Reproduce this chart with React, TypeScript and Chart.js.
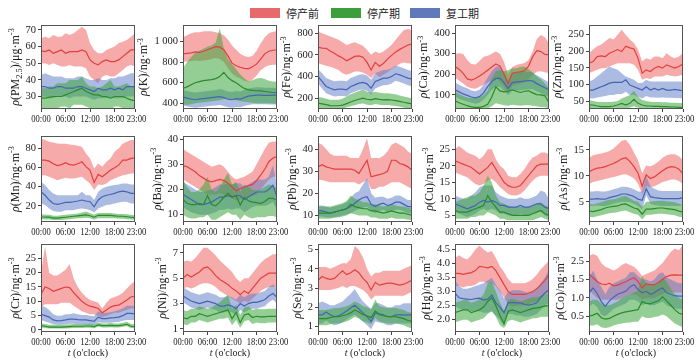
import React, { useEffect, useRef } from 'react';
import { Chart, registerables } from 'chart.js';

Chart.register(...registerables);

const SERIF = '"Liberation Serif", "Times New Roman", "DejaVu Serif", serif';
const CJK = '"Noto Sans CJK SC", "Noto Sans", sans-serif';
const TEXT = '#222222';
const FRAME = '#555555';

const RED_LINE = 'rgb(226,64,64)';
const RED_FILL = 'rgba(240,100,100,0.55)';
const GREEN_LINE = 'rgb(40,140,40)';
const GREEN_FILL = 'rgba(60,165,60,0.55)';
const BLUE_LINE = 'rgb(70,100,180)';
const BLUE_FILL = 'rgba(90,120,195,0.5)';

const LEGEND_LABELS = ['停产前', '停产期', '复工期'];
const LEGEND_COLORS = ['#e8696b', '#3c9f3c', '#6079b8'];

const HOURS = [0, 1, 2, 3, 4, 5, 6, 7, 8, 9, 10, 11, 12, 13, 14, 15, 16, 17, 18, 19, 20, 21, 22, 23];
const X_TICKS = [0, 6, 12, 18, 23];
const X_TICK_LABELS = ['00:00', '06:00', '12:00', '18:00', '23:00'];

// ---------- PM2.5 ----------
const pm25PreMean = [57.5,57,58,56,57,58,56,57,57,57,58,57,52,50,49,51,52,51,51,52,54,56,58,58];
const pm25PreLo = [50,50,49,50,49,48,48,49,48,48,48,47,42,40,38,42,43,42,42,44,46,48,49,48];
const pm25PreHi = [65,66,65,67,66,66,68,67,68,70,72,70,62,58,56,56,58,59,60,62,63,64,66,68];
const pm25StopMean = [29,29,29.5,30,30,30,31,32,33,34,35,33,32,31,31,30,30,29,30,30,30,29,28,27.5];
const pm25StopLo = [22,22,23,22,23,24,24,23,25,25,25,24,23,22,22,22,23,22,24,24,23,22,22,22];
const pm25StopHi = [35,35,36,36,38,38,38,40,40,40,42,38,36,36,35,36,38,40,36,36,37,38,36,36];
const pm25ResMean = [36,36,35,35,36,36,35,35,35,36,36,35,34,33,35,34,34,35,34,35,34,36,36,36];
const pm25ResLo = [30,30,29,29,30,30,30,29,30,30,30,30,29,28,29,29,29,29,29,29,29,30,30,30];
const pm25ResHi = [43,44,43,42,42,42,41,41,41,42,42,41,40,40,41,40,40,41,41,42,42,43,44,44];
const PM25_TICKS = [30, 40, 50, 60, 70];
const PM25_TICK_LABELS = ['30', '40', '50', '60', '70'];

// ---------- K ----------
const kPreMean = [880,885,890,900,895,905,920,935,950,945,920,860,790,765,750,740,735,755,780,830,880,905,915,920];
const kPreLo = [800,805,810,815,810,815,820,830,840,830,800,740,690,660,640,620,610,630,670,720,750,770,775,775];
const kPreHi = [1040,1060,1080,1090,1090,1100,1100,1100,1090,1080,1060,1020,960,920,880,860,850,860,910,980,1040,1080,1095,1100];
const kStopMean = [545,560,580,600,610,620,625,630,640,660,700,650,620,600,570,545,530,525,522,520,515,510,505,500];
const kStopLo = [390,385,390,400,405,410,415,420,425,430,440,445,440,430,420,415,410,405,400,400,400,400,398,395];
const kStopHi = [740,800,850,890,910,930,950,960,990,1130,930,830,780,730,680,640,615,625,640,645,635,620,612,610];
const kResMean = [460,450,440,435,440,445,450,455,460,465,455,440,435,445,440,455,470,475,480,480,478,478,480,480];
const kResLo = [380,370,362,358,362,368,372,376,380,385,375,362,358,365,362,375,385,390,392,392,390,388,388,388];
const kResHi = [530,520,510,505,510,515,520,525,530,540,530,515,510,520,515,530,545,550,555,555,552,550,550,548];
const K_TICKS = [400, 600, 800, 1000];
const K_TICK_LABELS = ['400', '600', '800', '1 000'];

// ---------- Fe ----------
const fePreMean = [671,662,660,635,615,590,570,545,565,585,590,578,530,460,530,495,520,560,595,625,650,670,690,700];
const fePreLo = [523,510,500,490,477,460,430,415,430,446,446,437,415,385,430,394,415,437,468,490,517,530,523,517];
const fePreHi = [815,800,785,770,755,740,715,690,705,715,700,683,645,600,630,615,630,660,690,740,785,830,837,830];
const feStopMean = [154,148,140,132,130,130,135,150,165,178,190,200,190,185,195,188,185,187,183,178,170,162,155,148];
const feStopLo = [110,105,100,95,95,95,100,115,125,135,145,150,140,135,145,140,135,137,133,128,120,112,106,102];
const feStopHi = [210,205,195,185,185,185,195,215,235,250,265,280,260,250,260,250,245,245,240,235,225,215,205,200];
const feResMean = [400,354,308,292,277,283,283,277,308,323,338,345,332,292,354,369,385,385,400,425,415,400,385,375];
const feResLo = [335,290,245,230,215,220,220,215,245,260,275,280,268,232,290,305,320,322,335,360,350,335,320,310];
const feResHi = [470,430,385,370,355,360,360,355,385,400,415,420,408,370,430,445,460,462,475,500,490,475,460,450];
const FE_TICKS = [200, 400, 600, 800];
const FE_TICK_LABELS = ['200', '400', '600', '800'];

// ---------- Ca ----------
const caPreMean = [238,225,205,178,172,180,192,205,220,235,250,240,200,155,205,210,212,218,240,285,315,310,296,295];
const caPreLo = [185,170,155,140,132,130,140,150,160,170,178,165,140,105,145,150,155,162,175,195,212,215,210,205];
const caPreHi = [300,302,298,270,250,248,265,285,290,300,310,300,260,200,235,245,250,255,270,310,370,390,380,350];
const caStopMean = [72,62,55,48,42,40,40,45,55,90,140,120,115,118,125,118,112,118,120,110,102,100,96,62];
const caStopLo = [38,35,33,32,30,30,30,32,35,45,60,55,50,48,52,50,48,50,50,48,45,42,40,36];
const caStopHi = [115,105,95,88,85,85,88,100,120,180,215,220,215,220,230,230,235,238,225,210,190,175,155,130];
const caResMean = [125,115,105,98,90,86,92,110,140,165,180,182,160,132,160,163,165,167,170,168,155,145,135,125];
const caResLo = [92,82,75,68,62,58,62,78,100,125,140,140,120,100,120,122,123,125,128,128,118,108,100,92];
const caResHi = [160,150,140,132,122,118,125,150,185,215,235,240,210,170,205,210,212,212,212,208,195,185,172,160];
const CA_TICKS = [100, 200, 300, 400];
const CA_TICK_LABELS = ['100', '200', '300', '400'];

// ---------- Zn ----------
const znPreMean = [164,169,184,186,184,194,199,205,199,215,210,207,179,134,144,139,149,154,149,159,154,149,154,162];
const znPreLo = [134,139,144,149,149,154,159,164,164,164,164,159,144,114,119,116,124,124,124,129,126,124,126,129];
const znPreHi = [194,205,215,220,230,240,235,250,265,250,235,225,205,169,179,174,184,184,179,194,184,179,184,194];
const znStopMean = [38,38,35,33,33,33,35,38,43,38,43,55,43,38,35,35,34,34,33,33,32,32,31,31];
const znStopLo = [28,27,26,25,25,25,26,27,29,28,30,34,30,28,27,27,26,26,26,26,26,26,26,26];
const znStopHi = [53,50,48,47,47,47,48,50,58,63,68,81,63,53,50,48,47,47,46,46,45,45,44,43];
const znResMean = [83,83,88,93,98,104,106,106,106,114,98,93,88,83,93,83,88,83,88,83,83,85,83,81];
const znResLo = [58,58,61,63,65,68,68,71,71,78,68,68,63,58,65,61,61,60,61,60,60,59,59,58];
const znResHi = [109,114,124,134,144,154,149,144,134,124,119,114,104,104,114,109,109,109,109,109,109,109,109,109];
const ZN_TICKS = [50, 100, 150, 200, 250];
const ZN_TICK_LABELS = ['50', '100', '150', '200', '250'];

// ---------- Mn ----------
const mnPreMean = [67.8,67.8,66.7,64,62,63,65,63,62.5,64,66,61,57,44.4,52.8,50.3,53.8,57.3,59.8,62.5,67.8,67.8,69.5,70.2];
const mnPreLo = [52,52,50.3,48.6,46.8,47.9,49.3,48.6,48.6,49.3,50.3,46.8,43.4,36.4,42.3,41.6,43.4,46.8,48.6,50.3,52,52.8,53.8,53.8];
const mnPreHi = [90.5,88.7,87,86.3,85.2,85,85,84,83.5,82.8,81.7,74.8,69.5,59,64.3,60.8,66,69.5,76.5,80,85,87,88.7,88.7];
const mnStopMean = [8.5,8,8,7,7,7.5,8,8.5,9,9.5,10,10.5,9.5,8,10,10,10,10,9.5,9,9,8.5,8,7.5];
const mnStopLo = [6,5.5,5.5,5,5,5,5.5,6,6.5,7,7,7.5,7,5.5,7,7,7,7,7,6.5,6.5,6,5.5,5];
const mnStopHi = [11,10.5,10.5,9.5,9.5,10,10.5,11,11.5,12,13,14,12.5,10.5,12.5,12.5,12.5,12.5,12,11.5,11.5,11,10.5,10];
const mnResMean = [34.6,31,26,22.4,21.4,22.4,23.5,23.5,24.2,25,26,25,24.2,18.9,26,29.4,31,31.8,32.9,34.6,35.3,34.6,32.9,32.9];
const mnResLo = [22.4,20.7,17.2,14.4,13.7,13.7,15.4,15.4,15.4,16.5,17.2,16.5,15.4,13,17.2,18.9,20.7,21.4,22.4,23.5,24.2,24.2,22.4,22.4];
const mnResHi = [45,41.6,36.4,32.9,31,31,31,31,31,31,34.6,31,31,26,34.6,38.1,39.9,41,41.6,42.3,43.4,43.4,42.3,42.3];
const MN_TICKS = [20, 40, 60, 80];
const MN_TICK_LABELS = ['20', '40', '60', '80'];

// ---------- Ba ----------
const baPreMean = [29.5,29,28,27,25.5,24.5,23.5,23,23.5,24,23.5,22.5,21,19.5,20.3,21,21.5,22,23.5,25.7,28,31,32.5,33];
const baPreLo = [24,23,22,21,20,19,18,18,18,18.5,18,17.5,16.5,15.5,16,16.5,17,17.5,18,20,22,24,25,25];
const baPreHi = [36,35,34,33,32,31,30,29,29.5,30,29,27,25,24,24.5,25,26,27,30,33,36,38.5,39,39];
const baStopMean = [16,14.5,14,14,14.5,14,17.5,14,13.5,15,17,18.5,17,17.5,13.8,16.8,15.5,15,14.8,14.4,15.2,16.5,16.5,15.7];
const baStopLo = [10,9,8.5,8.5,9,9,10,8,8,9,10,11,10,10,8,10,9,8.5,9,9,9,9.5,9.5,9];
const baStopHi = [24,21,19,19,20,22,25,20,19,21,24,26.5,22,23,19,22,21,20,19.5,20,21,22,21.5,20.5];
const baResMean = [18,17,16,15,14,14,14.5,15,16,17,17,17.5,17,17.7,17.5,16,17,18,19,19,19,20,21.7,17];
const baResLo = [13,12,11,10.5,10,10,10,10.5,11,12,12,12.5,12,12.5,12.5,11,12,13,13.5,13.5,13.5,14,15,12];
const baResHi = [23,22,21,20,19,19,19.5,20,21,22,22,22.5,22,22.5,22.5,21,22,23,24,24,24,25,29.6,22];
const BA_TICKS = [10, 20, 30, 40];
const BA_TICK_LABELS = ['10', '20', '30', '40'];

// ---------- Pb ----------
const pbPreMean = [32,33,32,31.5,31,31,31,31,31,30.5,29,32,35,27.5,28,28.5,29,30,35,35,33.5,33,32,30.5];
const pbPreLo = [26,26,25.5,25,25,25,25,25,25,25,24,25,26,22,22,23,23,24,25,25,25,24,23,22];
const pbPreHi = [43,42,40,38,37,37,37,37,36,36,36,40,45,36,36,36,37,39,42,43,42,41,39,38];
const pbStopMean = [11,11,11,11,11.5,12,12.5,13,15,14,13.5,13,13,12,12,11.5,11,11.5,12,11.5,11,11,10.5,10];
const pbStopLo = [8.5,8.5,8.5,8.5,9,9,9.5,10,11,10.5,10,10,10,9,9,8.5,8.5,8.5,9,8.5,8.5,8.5,8,8];
const pbStopHi = [14,14,14,14,14.5,15,15.5,16.5,19,17.5,17,16,16,15,15,14.5,14,14.5,15,14.5,14,14,13.5,13];
const pbResMean = [12,12,11.5,11,11.5,12,12.5,13,14,15.5,17,18,18.5,15,14,15,15.5,14.5,15,16,16,15,14,14];
const pbResLo = [9.5,9.5,9,9,9,9.5,10,10.5,11,12,13,13.5,14,12,11,12,12.5,11.5,12,12.5,12.5,12,11,11];
const pbResHi = [14.5,14.5,14,13.5,14,14.5,15,16,18,20,21,24,27,20,18,18.5,18.5,17.5,18,19,19,18,17,17];
const PB_TICKS = [10, 20, 30, 40];
const PB_TICK_LABELS = ['10', '20', '30', '40'];

// ---------- Cu ----------
const cuPreMean = [21.5,21,20.5,20,19.5,18.5,17.5,18.5,19.5,21,19,17,15,14,13.5,13.5,14,15.5,17,18.5,20,20.5,20.5,20.5];
const cuPreLo = [18,17.5,17,16.5,15.5,14.5,14,14.5,15.5,16,15,13.5,12.5,11.5,11,11,11.5,12.5,14,15.5,16.5,17,17,17];
const cuPreHi = [25,26,25,24,23.5,23,22,23,25,25,22,20,19,17,16.5,16.5,17.5,19,21,22.5,23,24,24,23.5];
const cuStopMean = [6.5,6,6,6,6.5,7,7.5,8,11,9,7.5,6,6,5.5,5,5,5,5,5,5.5,6,6.5,5.5,5];
const cuStopLo = [4,4,4,4,4.5,4.5,5,5,6,5.5,5,4,4,3.5,3.5,3.5,3.5,3.5,3.5,3.5,4,4.5,4,3.5];
const cuStopHi = [9,9.5,10,10.5,11,11,12,14,17,15,11,9,8.5,8,7.5,7.5,7.5,7.5,7.5,8,8.5,9,8,7.5];
const cuResMean = [8.5,8,7.5,7,7.5,8,9,9.5,9,9.5,9,8,8,7.5,7.5,7.5,8,7.5,7.5,8,8.5,8.5,7.5,7];
const cuResLo = [6,5.5,5,4.5,5,5.5,6.5,7,6.5,7,6.5,5.5,5.5,5,5,5,5.5,5,5,5.5,6,6,5,4.5];
const cuResHi = [11,10.5,10,10,11,12,13.5,14,14,14,12,11,10.5,10,10,10,10.5,10,10,10.5,11,12.5,12,10];
const CU_TICKS = [5, 10, 15, 20, 25];
const CU_TICK_LABELS = ['5', '10', '15', '20', '25'];

// ---------- As ----------
const asPreMean = [10.8,11.2,11.5,11.6,11.8,12.1,12.4,12.8,13.3,13.5,12.8,11.8,10.5,8.0,10.2,9.5,9.8,10.4,11,11.5,11.8,11.7,11.3,10.4];
const asPreLo = [8.5,8.8,9,9.2,9.4,9.6,9.8,10,10.2,10.3,10,9.5,8.5,6.5,8,7.8,8,8.4,8.8,9,9.3,9.3,9,8.5];
const asPreHi = [13.5,14,14.2,14.3,14.5,14.8,15.3,16,16.8,17,16,14.5,13,10.5,12,11.8,12.2,12.8,13.5,14,14.2,14.2,13.8,13];
const asStopMean = [3.2,3.1,3.3,3.5,3.8,4,4.1,4.2,4.5,4.6,4.2,3.8,3.6,2.6,3.6,3.6,3.7,3.8,3.8,3.7,3.6,3.5,3.2,3];
const asStopLo = [2.1,2,2.2,2.4,2.6,2.8,2.9,3,3.2,3.3,3,2.7,2.5,1.6,2.5,2.5,2.6,2.7,2.7,2.6,2.5,2.4,2.1,2];
const asStopHi = [4.6,4.5,4.7,4.9,5.2,5.4,5.5,5.7,6,6.1,5.7,5.2,5,4,5,5,5.1,5.2,5.2,5.1,5,4.9,4.6,4.4];
const asResMean = [5.5,5.5,5.6,5.5,5.5,5.8,6,6.2,6.5,6.5,6.3,6,5.5,5.3,7.5,6,5.8,5.7,5.6,5.6,5.6,5.6,5.6,5.8];
const asResLo = [4.2,4.2,4.3,4.2,4.2,4.4,4.6,4.8,5,5,4.9,4.6,4.2,3.5,6.3,4.6,4.4,4.3,4.2,4.2,4.2,4.2,4.2,4.4];
const asResHi = [7,7,7.1,7,7,7.2,7.4,7.6,7.9,7.9,7.7,7.4,7,7,10,8,7.5,7.2,7.1,7.1,7.1,7.1,7.1,7.2];
const AS_TICKS = [5, 10, 15];
const AS_TICK_LABELS = ['5', '10', '15'];

// ---------- Cr ----------
const crPreMean = [12.5,15,14.5,13.5,14,14.5,15,14.8,13,11.5,10,9,8.3,8,7.5,6,7,8,8.5,8.7,9.5,10.5,11.5,11.8];
const crPreLo = [8,9,9,9,9,9.5,9.5,9.5,8.5,7.5,6.5,6,5.5,5.5,5,4.5,5,5.5,6,6,6.5,7,7.5,7.5];
const crPreHi = [20,29,20,19,19,20,21,23,18,15,13,11.5,10.5,10,9.5,7.5,9.5,11,11.5,12,13,14.5,16,17];
const crStopMean = [1.5,1.3,1,1,1,1,1.1,1.2,1.3,1.3,1.3,1.4,1.4,1.2,1.8,1.5,1.5,1.6,1.5,1.5,1.7,2,1.3,1.2];
const crStopLo = [0.9,0.7,0.5,0.5,0.5,0.5,0.5,0.6,0.7,0.7,0.7,0.8,0.8,0.6,1.2,0.9,0.9,1,0.9,0.9,1.1,1.3,0.7,0.6];
const crStopHi = [2.3,2.1,1.8,1.8,1.8,1.8,1.9,2,2.1,2.1,2.1,2.2,2.2,2,2.6,2.3,2.3,2.4,2.3,2.3,2.5,2.9,2.1,2];
const crResMean = [5.5,5,4.5,3.5,3.2,3.3,3.5,3.8,3.8,3.6,3.5,3.5,3.3,3,4.5,4,4,4.2,4.3,4.5,5,5.8,5.8,5.6];
const crResLo = [3.5,3,2.5,2,1.8,1.8,2,2.2,2.2,2,2,2,1.8,1.8,2.8,2.5,2.5,2.5,2.7,2.8,3.2,3.5,3.5,3.5];
const crResHi = [8.5,8,7,5.5,5,5,5.5,5.5,5.8,5.5,5.2,5.2,5,4.8,6.5,6,6,6.2,6.5,7,7.5,8.5,8.5,8.3];
const CR_TICKS = [0, 5, 10, 15, 20, 25];
const CR_TICK_LABELS = ['0', '5', '10', '15', '20', '25'];

// ---------- Ni ----------
const niPreMean = [5.0,5.3,5.1,5.3,5.5,5.8,5.9,5.6,5.2,4.9,4.7,4.5,4.2,4,3.7,4,3.8,4.2,4.6,5,5.2,5.4,5.4,5.4];
const niPreLo = [4.2,4.3,4.2,4.3,4.5,4.6,4.6,4.5,4.3,4,3.8,3.6,3.4,3.2,3,3.2,3.1,3.4,3.7,4,4.2,4.3,4.3,4.3];
const niPreHi = [6.3,6.4,6.3,6.6,7,7.4,7.4,7.1,6.8,6.4,6.1,5.8,5.5,5,4.7,5,5,5.4,5.8,6.2,6.5,6.7,6.9,6.9];
const niStopMean = [1.9,1.8,2,2,2.2,2.1,2,2.1,2.2,2.3,2.4,2.5,1.8,2.3,1.5,2.1,2.2,1.9,2,1.95,1.95,2,2,2];
const niStopLo = [1.4,1.3,1.5,1.5,1.7,1.6,1.5,1.6,1.7,1.8,1.8,1.9,1.3,1.7,1.1,1.6,1.7,1.4,1.5,1.45,1.45,1.5,1.5,1.5];
const niStopHi = [2.5,2.4,2.6,2.6,2.8,2.7,2.6,2.7,2.9,3.1,3.4,3.7,2.6,2.9,2.1,2.7,2.8,2.5,2.6,2.55,2.55,2.6,2.6,2.6];
const niResMean = [3.6,3.4,3.2,3.1,3,3.1,3.2,3.1,3,2.8,2.8,2.9,2.8,2.6,3,2.8,3,3.1,3.1,3.2,3.3,3.6,3.8,3.5];
const niResLo = [3.1,2.9,2.7,2.6,2.5,2.6,2.7,2.6,2.5,2.3,2.3,2.4,2.3,2.1,2.5,2.3,2.5,2.6,2.6,2.7,2.8,3.1,3.3,3];
const niResHi = [4.3,4.1,3.9,3.8,3.7,3.8,3.9,3.8,3.7,3.5,3.5,3.6,3.5,3.3,3.7,3.5,3.7,3.8,3.8,3.9,4,4.3,4.5,4.2];
const NI_TICKS = [1, 3, 5, 7];
const NI_TICK_LABELS = ['1', '3', '5', '7'];

// ---------- Se ----------
const sePreMean = [3.4,3.6,3.5,3.45,3.5,3.7,3.9,3.7,3.8,3.95,3.8,3.5,3.3,2.9,3.3,3.15,3.2,3.25,3.25,3.2,3.15,3.2,3.3,3.4];
const sePreLo = [2.9,2.9,2.9,2.9,2.95,3,3.1,3,3.1,3.1,3,2.9,2.7,2.4,2.6,2.6,2.6,2.6,2.6,2.6,2.6,2.6,2.7,2.8];
const sePreHi = [4.1,4.1,4.1,4,4.1,4.2,4.3,4.3,4.5,5.2,5,4.6,4,3.6,3.8,3.8,3.9,3.9,3.9,3.9,3.9,4,4.1,4.2];
const seStopMean = [1.4,1.4,1.4,1.45,1.5,1.5,1.55,1.6,1.7,1.85,1.75,1.6,1.55,1.45,1.8,1.6,1.55,1.5,1.5,1.5,1.45,1.4,1.3,1.25];
const seStopLo = [1.05,1.05,1.05,1.1,1.15,1.15,1.2,1.25,1.35,1.5,1.4,1.25,1.2,1.1,1.45,1.25,1.2,1.15,1.15,1.15,1.1,1.05,0.95,0.9];
const seStopHi = [1.85,1.85,1.85,1.9,1.95,1.95,2,2.05,2.15,2.3,2.2,2.05,2,1.9,2.4,2.05,2,1.95,1.95,1.95,1.9,1.85,1.75,1.7];
const seResMean = [1.6,1.6,1.75,1.6,1.5,1.55,1.65,1.8,1.95,2.1,1.9,1.7,1.5,1.25,1.7,1.65,1.6,1.5,1.5,1.6,1.6,1.6,1.6,1.6];
const seResLo = [1.15,1.15,1.3,1.15,1.05,1.1,1.2,1.35,1.5,1.6,1.45,1.25,1.05,0.85,1.25,1.2,1.15,1.05,1.05,1.15,1.15,1.15,1.15,1.15];
const seResHi = [2.2,2.3,2.2,2.1,2.1,2.2,2.3,2.5,2.7,2.95,2.6,2.3,2.1,1.9,2.2,2.2,2.1,2,2,2.1,2.1,2.2,2.2,2.2];
const SE_TICKS = [1, 2, 3, 4, 5];
const SE_TICK_LABELS = ['1', '2', '3', '4', '5'];

// ---------- Hg ----------
const hgPreMean = [3.65,3.65,3.62,3.65,3.68,3.75,3.9,3.88,3.85,3.9,3.75,3.5,3.25,3,2.9,2.9,2.9,2.9,2.95,3,3.1,3.25,3.4,3.6];
const hgPreLo = [3.2,3.2,3.15,3.2,3.2,3.25,3.35,3.35,3.3,3.3,3.2,3,2.8,2.55,2.45,2.5,2.5,2.5,2.55,2.6,2.65,2.75,2.9,3];
const hgPreHi = [4.2,4.3,4.2,4.15,4.3,4.5,4.65,4.5,4.4,4.45,4.2,3.9,3.7,3.45,3.3,3.3,3.3,3.3,3.35,3.45,3.6,3.8,3.95,4.1];
const hgStopMean = [2.25,2.3,2.35,2.35,2.25,2.3,2.35,2.45,2.65,2.78,2.5,2.15,1.85,2.3,2.35,2.3,2.25,2.3,2.35,2.4,2.42,2.45,2.48,2.5];
const hgStopLo = [1.9,1.95,2,2,1.9,1.95,2,2.05,2.2,2.3,2.1,1.8,1.7,1.95,2,1.95,1.9,1.95,2,2.05,2.05,2.1,2.1,2.1];
const hgStopHi = [2.6,2.65,2.7,2.7,2.6,2.65,2.75,2.9,3.3,3.35,3,2.6,2.3,2.7,2.75,2.7,2.65,2.7,2.75,2.8,2.8,2.85,2.9,2.95];
const hgResMean = [2.95,2.78,2.75,2.73,2.72,2.75,2.77,2.7,2.73,2.88,2.6,2.45,2.25,2.6,2.62,2.6,2.6,2.55,2.52,2.55,2.6,2.8,2.95,3.07];
const hgResLo = [2.5,2.4,2.35,2.35,2.3,2.3,2.3,2.25,2.25,2.3,2.15,2,1.8,2.2,2.2,2.15,2.15,2.1,2.1,2.15,2.2,2.35,2.5,2.6];
const hgResHi = [3.4,3.2,3.1,3.1,3.15,3.2,3.25,3.3,3.4,3.5,3.25,3.05,2.75,3,3.05,3.05,3.05,3,2.95,3,3.1,3.3,3.5,3.8];
const HG_TICKS = [2, 2.5, 3, 3.5, 4, 4.5];
const HG_TICK_LABELS = ['2.0', '2.5', '3.0', '3.5', '4.0', '4.5'];

// ---------- Co ----------
const coPreMean = [1.65,1.55,1.45,1.38,1.36,1.4,1.33,1.35,1.4,1.44,1.5,1.55,1.45,1.27,1.38,1.36,1.36,1.42,1.5,1.58,1.62,1.63,1.62,1.62];
const coPreLo = [1.2,1.1,1,0.95,0.95,0.95,0.95,0.95,1,1.05,1.1,1.1,1.05,0.95,1,1,1,1.05,1.1,1.15,1.15,1.15,1.15,1.15];
const coPreHi = [2.15,2.2,2.15,1.95,1.85,1.8,1.75,1.8,1.9,1.95,1.9,1.85,1.75,1.6,1.65,1.7,1.75,1.85,1.95,2.1,2.25,2.35,2.3,2.45];
const coStopMean = [0.5,0.53,0.58,0.46,0.42,0.44,0.5,0.55,0.59,0.62,0.64,0.66,0.68,0.9,0.85,0.84,0.88,0.92,1.03,0.92,0.8,0.68,0.58,0.55];
const coStopLo = [0.25,0.25,0.28,0.2,0.18,0.2,0.25,0.28,0.3,0.32,0.33,0.35,0.35,0.5,0.45,0.45,0.48,0.5,0.55,0.5,0.4,0.3,0.25,0.2];
const coStopHi = [0.9,0.95,0.95,0.85,0.8,0.8,0.85,0.9,1,1.05,1.1,1.15,1.2,1.6,1.4,1.35,1.35,1.45,1.55,1.45,1.25,1.1,1,0.95];
const coResMean = [1.14,1.27,1.12,0.9,0.77,0.92,1.02,1.1,1.14,1.18,1.3,1.36,1.23,1.14,1.18,1.1,1.14,1.22,1.27,1.14,1.1,1.06,1.05,1.05];
const coResLo = [0.75,0.85,0.75,0.55,0.5,0.6,0.7,0.75,0.8,0.85,0.95,0.95,0.9,0.8,0.85,0.8,0.8,0.85,0.9,0.8,0.75,0.72,0.7,0.7];
const coResHi = [1.55,1.75,1.5,1.3,1.1,1.3,1.4,1.45,1.5,1.55,1.7,1.7,1.6,1.5,1.5,1.45,1.5,1.65,1.7,1.55,1.5,1.45,1.4,1.4];
const CO_TICKS = [0.5, 1, 1.5, 2];
const CO_TICK_LABELS = ['0.5', '1.0', '1.5', '2.5'];

// ---------- layout ----------
const COL_LEFT = [41, 183, 318, 455, 589];
const ROW_TOP = [25, 136, 244];
const ROW_H = [84, 86, 88];
const PLOT_W = 94;
const AXIS_W = 50;
const PAD_TOP = 10;
const PAD_RIGHT = 16;
const XAXIS_H = 16;
const XTITLE_H = 16;

type Seg = { t: string; i?: boolean; sub?: boolean; sup?: boolean };
type PanelDef = {
  col: number; row: number; title: Seg[]; yMin: number; yMax: number;
  yTicks: number[]; yLabels: string[];
  pre: number[][]; stop: number[][]; res: number[][];
};

const mkTitle = (el: string, unit: string, sub?: string): Seg[] => {
  const s: Seg[] = [{ t: 'ρ', i: true }, { t: '(' + el }];
  if (sub) s.push({ t: sub, sub: true });
  s.push({ t: ')/' + unit + '·m' });
  s.push({ t: '-3', sup: true });
  return s;
};

const PANELS: PanelDef[] = [
  { col: 0, row: 0, title: mkTitle('PM', 'μg', '2.5'), yMin: 22.5, yMax: 73, yTicks: PM25_TICKS, yLabels: PM25_TICK_LABELS,
    pre: [pm25PreMean, pm25PreLo, pm25PreHi], stop: [pm25StopMean, pm25StopLo, pm25StopHi], res: [pm25ResMean, pm25ResLo, pm25ResHi] },
  { col: 1, row: 0, title: mkTitle('K', 'ng'), yMin: 345, yMax: 1160, yTicks: K_TICKS, yLabels: K_TICK_LABELS,
    pre: [kPreMean, kPreLo, kPreHi], stop: [kStopMean, kStopLo, kStopHi], res: [kResMean, kResLo, kResHi] },
  { col: 2, row: 0, title: mkTitle('Fe', 'ng'), yMin: 100, yMax: 875, yTicks: FE_TICKS, yLabels: FE_TICK_LABELS,
    pre: [fePreMean, fePreLo, fePreHi], stop: [feStopMean, feStopLo, feStopHi], res: [feResMean, feResLo, feResHi] },
  { col: 3, row: 0, title: mkTitle('Ca', 'ng'), yMin: 32, yMax: 439, yTicks: CA_TICKS, yLabels: CA_TICK_LABELS,
    pre: [caPreMean, caPreLo, caPreHi], stop: [caStopMean, caStopLo, caStopHi], res: [caResMean, caResLo, caResHi] },
  { col: 4, row: 0, title: mkTitle('Zn', 'ng'), yMin: 26, yMax: 279, yTicks: ZN_TICKS, yLabels: ZN_TICK_LABELS,
    pre: [znPreMean, znPreLo, znPreHi], stop: [znStopMean, znStopLo, znStopHi], res: [znResMean, znResLo, znResHi] },
  { col: 0, row: 1, title: mkTitle('Mn', 'ng'), yMin: 3, yMax: 93, yTicks: MN_TICKS, yLabels: MN_TICK_LABELS,
    pre: [mnPreMean, mnPreLo, mnPreHi], stop: [mnStopMean, mnStopLo, mnStopHi], res: [mnResMean, mnResLo, mnResHi] },
  { col: 1, row: 1, title: mkTitle('Ba', 'ng'), yMin: 7.1, yMax: 41.2, yTicks: BA_TICKS, yLabels: BA_TICK_LABELS,
    pre: [baPreMean, baPreLo, baPreHi], stop: [baStopMean, baStopLo, baStopHi], res: [baResMean, baResLo, baResHi] },
  { col: 2, row: 1, title: mkTitle('Pb', 'ng'), yMin: 7, yMax: 46, yTicks: PB_TICKS, yLabels: PB_TICK_LABELS,
    pre: [pbPreMean, pbPreLo, pbPreHi], stop: [pbStopMean, pbStopLo, pbStopHi], res: [pbResMean, pbResLo, pbResHi] },
  { col: 3, row: 1, title: mkTitle('Cu', 'ng'), yMin: 3, yMax: 29, yTicks: CU_TICKS, yLabels: CU_TICK_LABELS,
    pre: [cuPreMean, cuPreLo, cuPreHi], stop: [cuStopMean, cuStopLo, cuStopHi], res: [cuResMean, cuResLo, cuResHi] },
  { col: 4, row: 1, title: mkTitle('As', 'ng'), yMin: 1.1, yMax: 17.7, yTicks: AS_TICKS, yLabels: AS_TICK_LABELS,
    pre: [asPreMean, asPreLo, asPreHi], stop: [asStopMean, asStopLo, asStopHi], res: [asResMean, asResLo, asResHi] },
  { col: 0, row: 2, title: mkTitle('Cr', 'ng'), yMin: -0.7, yMax: 30, yTicks: CR_TICKS, yLabels: CR_TICK_LABELS,
    pre: [crPreMean, crPreLo, crPreHi], stop: [crStopMean, crStopLo, crStopHi], res: [crResMean, crResLo, crResHi] },
  { col: 1, row: 2, title: mkTitle('Ni', 'ng'), yMin: 0.76, yMax: 7.7, yTicks: NI_TICKS, yLabels: NI_TICK_LABELS,
    pre: [niPreMean, niPreLo, niPreHi], stop: [niStopMean, niStopLo, niStopHi], res: [niResMean, niResLo, niResHi] },
  { col: 2, row: 2, title: mkTitle('Se', 'ng'), yMin: 0.7, yMax: 5.3, yTicks: SE_TICKS, yLabels: SE_TICK_LABELS,
    pre: [sePreMean, sePreLo, sePreHi], stop: [seStopMean, seStopLo, seStopHi], res: [seResMean, seResLo, seResHi] },
  { col: 3, row: 2, title: mkTitle('Hg', 'ng'), yMin: 1.56, yMax: 4.7, yTicks: HG_TICKS, yLabels: HG_TICK_LABELS,
    pre: [hgPreMean, hgPreLo, hgPreHi], stop: [hgStopMean, hgStopLo, hgStopHi], res: [hgResMean, hgResLo, hgResHi] },
  { col: 4, row: 2, title: mkTitle('Co', 'ng'), yMin: 0.07, yMax: 2.47, yTicks: CO_TICKS, yLabels: CO_TICK_LABELS,
    pre: [coPreMean, coPreLo, coPreHi], stop: [coStopMean, coStopLo, coStopHi], res: [coResMean, coResLo, coResHi] },
];

const X_TITLE: Seg[] = [{ t: 't', i: true }, { t: " (o'clock)" }];

const Y_TICK_SIZE = 10.5;
const X_TICK_SIZE = 10;
const X_TICK_SQUEEZE = 0.86;
const Y_TITLE_SIZE = 12;
const X_TITLE_SIZE = 10;

function drawRich(ctx: CanvasRenderingContext2D, segs: Seg[], cx: number, cy: number, size: number, rotate: boolean) {
  ctx.save();
  ctx.translate(cx, cy);
  if (rotate) ctx.rotate(-Math.PI / 2);
  const fontOf = (s: Seg) => `${s.i ? 'italic ' : ''}${s.sub || s.sup ? size * 0.7 : size}px ${SERIF}`;
  let total = 0;
  for (const s of segs) { ctx.font = fontOf(s); total += ctx.measureText(s.t).width; }
  let x = -total / 2;
  ctx.textBaseline = 'alphabetic';
  ctx.textAlign = 'left';
  ctx.fillStyle = TEXT;
  const base = size * 0.3;
  for (const s of segs) {
    ctx.font = fontOf(s);
    const dy = s.sub ? size * 0.25 : s.sup ? -size * 0.4 : 0;
    ctx.fillText(s.t, x, base + dy);
    x += ctx.measureText(s.t).width;
  }
  ctx.restore();
}

const decorPlugin = {
  id: 'decor',
  afterDatasetsDraw(chart: any) {
    const { ctx, chartArea: a } = chart;
    ctx.save();
    ctx.strokeStyle = FRAME;
    ctx.lineWidth = 1;
    ctx.strokeRect(a.left + 0.5, a.top + 0.5, a.right - a.left - 1, a.bottom - a.top - 1);
    ctx.restore();
  },
  afterDraw(chart: any, _args: any, opts: any) {
    const { ctx, chartArea: a } = chart;
    // x tick labels (slightly condensed serif, as in the reference)
    const xs = chart.scales.x;
    ctx.save();
    ctx.font = `${X_TICK_SIZE}px ${SERIF}`;
    ctx.fillStyle = TEXT;
    ctx.textAlign = 'center';
    ctx.textBaseline = 'top';
    X_TICKS.forEach((v, i) => {
      const px = xs.getPixelForValue(v) + (i === X_TICKS.length - 1 ? 1.5 : 0);
      ctx.save();
      ctx.translate(px, a.bottom + 5);
      ctx.scale(X_TICK_SQUEEZE, 1);
      ctx.fillText(X_TICK_LABELS[i], 0, 0);
      ctx.restore();
    });
    ctx.restore();
    // y title
    ctx.save();
    ctx.font = `${Y_TICK_SIZE}px ${SERIF}`;
    let lw = 0;
    for (const l of opts.yLabels as string[]) lw = Math.max(lw, ctx.measureText(l).width);
    ctx.restore();
    drawRich(ctx, opts.title, a.left - lw - 15.5, (a.top + a.bottom) / 2, Y_TITLE_SIZE, true);
    if (opts.xTitle) {
      drawRich(ctx, X_TITLE, (a.left + a.right) / 2, a.bottom + 21, X_TITLE_SIZE, false);
    }
  },
};

function buildConfig(p: PanelDef): any {
  const pts = (arr: number[]) => arr.map((y, i) => ({ x: HOURS[i], y }));
  const band = (lo: number[], hi: number[], fill: string, order: number) => [
    { data: pts(lo), borderColor: 'rgba(0,0,0,0)', borderWidth: 0, pointRadius: 0, fill: false, order },
    { data: pts(hi), borderColor: 'rgba(0,0,0,0)', borderWidth: 0, pointRadius: 0, fill: '-1', backgroundColor: fill, order },
  ];
  const line = (m: number[], color: string) => ({ data: pts(m), borderColor: color, borderWidth: 1.2, pointRadius: 0, fill: false, order: 0 });
  const datasets = [
    ...band(p.pre[1], p.pre[2], RED_FILL, 3),
    ...band(p.res[1], p.res[2], BLUE_FILL, 2),
    ...band(p.stop[1], p.stop[2], GREEN_FILL, 1),
    line(p.pre[0], RED_LINE),
    line(p.stop[0], GREEN_LINE),
    line(p.res[0], BLUE_LINE),
  ];
  const grid = { display: true, drawOnChartArea: false, drawTicks: true, tickLength: 3, color: '#444', lineWidth: 1 };
  return {
    type: 'line',
    data: { datasets },
    plugins: [decorPlugin],
    options: {
      responsive: false,
      animation: false,
      devicePixelRatio: 1,
      events: [],
      layout: { padding: { left: 0, right: PAD_RIGHT, top: PAD_TOP, bottom: p.row === 2 ? XTITLE_H : 0 } },
      elements: { line: { tension: 0 } },
      plugins: {
        legend: { display: false },
        tooltip: { enabled: false },
        decor: { title: p.title, yLabels: p.yLabels, xTitle: p.row === 2 },
      },
      scales: {
        x: {
          type: 'linear', min: 0, max: 23,
          afterBuildTicks: (s: any) => { s.ticks = X_TICKS.map((v) => ({ value: v })); },
          afterFit: (s: any) => { s.height = XAXIS_H; },
          ticks: {
            autoSkip: false, maxRotation: 0, minRotation: 0, padding: 2, color: 'rgba(0,0,0,0)',
            font: { family: SERIF, size: 8 },
            callback: (_v: any, i: number) => X_TICK_LABELS[i],
          },
          grid, border: { display: false },
        },
        y: {
          type: 'linear', min: p.yMin, max: p.yMax,
          afterBuildTicks: (s: any) => { s.ticks = p.yTicks.map((v) => ({ value: v })); },
          afterFit: (s: any) => { s.width = AXIS_W; },
          ticks: {
            padding: 2, color: TEXT,
            font: { family: SERIF, size: Y_TICK_SIZE },
            callback: (_v: any, i: number) => p.yLabels[i],
          },
          grid, border: { display: false },
        },
      },
    },
  };
}

function Panel({ p }: { p: PanelDef }) {
  const ref = useRef<HTMLCanvasElement>(null);
  useEffect(() => {
    const chart = new Chart(ref.current as HTMLCanvasElement, buildConfig(p));
    return () => chart.destroy();
  }, [p]);
  const left = COL_LEFT[p.col] - AXIS_W;
  const top = ROW_TOP[p.row] - PAD_TOP;
  const w = AXIS_W + PLOT_W + PAD_RIGHT;
  const h = PAD_TOP + ROW_H[p.row] + XAXIS_H + (p.row === 2 ? XTITLE_H : 0);
  return (
    <canvas ref={ref} width={w} height={h}
      style={{ position: 'absolute', left, top, width: w, height: h, display: 'block' }} />
  );
}

const LEGEND_BOX_X = [250, 331, 410];

export default function App() {
  return (
    <div style={{ position: 'absolute', left: 0, top: 0, width: 700, height: 362, background: '#fff', overflow: 'hidden' }}>
      {LEGEND_LABELS.map((lab, i) => (
        <React.Fragment key={lab}>
          <div style={{ position: 'absolute', left: LEGEND_BOX_X[i], top: 8, width: 30, height: 10, background: LEGEND_COLORS[i] }} />
          <div style={{ position: 'absolute', left: LEGEND_BOX_X[i] + 36, top: 4, height: 18, lineHeight: '18px',
            fontFamily: CJK, fontSize: 11, color: TEXT, whiteSpace: 'nowrap' }}>{lab}</div>
        </React.Fragment>
      ))}
      {PANELS.map((p, i) => <Panel key={i} p={p} />)}
    </div>
  );
}
